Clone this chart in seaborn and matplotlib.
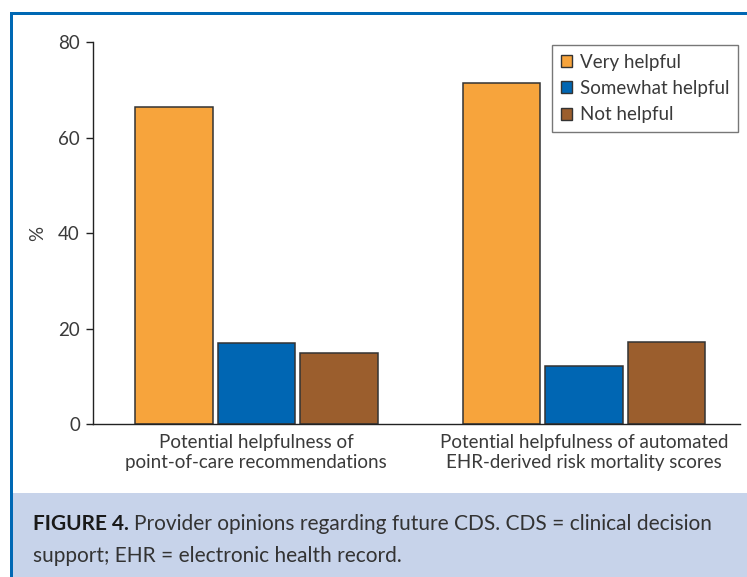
import matplotlib
matplotlib.use("Agg")
import matplotlib.pyplot as plt
from matplotlib.patches import Rectangle
import pandas as pd
import seaborn as sns

# Survey results (% of providers)
categories = [
    "Potential helpfulness of\npoint-of-care recommendations",
    "Potential helpfulness of automated\nEHR-derived risk mortality scores",
]
responses = ["Very helpful", "Somewhat helpful", "Not helpful"]
very_helpful = [66.4, 71.5]
somewhat_helpful = [16.9, 12.1]
not_helpful = [14.9, 17.1]
y_ticks = [0, 20, 40, 60, 80]

colors = ["#f7a43c", "#0066b3", "#9b5e2d"]
text_color = "#3a3a3a"

rows = []
for name, vals in zip(responses, [very_helpful, somewhat_helpful, not_helpful]):
    for cat, v in zip(categories, vals):
        rows.append({"category": cat, "response": name, "pct": v})
df = pd.DataFrame(rows)

sns.set_theme(style="white")
plt.rcParams["font.family"] = ["Lato", "DejaVu Sans"]

W, H = 747, 577
fig = plt.figure(figsize=(W / 100, H / 100), dpi=100)
fig.patch.set_facecolor("white")

# Frame: blue rules at top and left, light blue caption band
band_top = 493
fig.patches.append(Rectangle((13 / W, 0), 1 - 13 / W, (H - band_top) / H,
                             transform=fig.transFigure, facecolor="#c7d3ea",
                             edgecolor="none", zorder=0))
fig.patches.append(Rectangle((10 / W, 0), 3 / W, (H - 12) / H,
                             transform=fig.transFigure, facecolor="#0068b4",
                             edgecolor="none", zorder=1))
fig.patches.append(Rectangle((10 / W, (H - 15) / H), 1 - 10 / W, 3 / H,
                             transform=fig.transFigure, facecolor="#0068b4",
                             edgecolor="none", zorder=1))

left_px, right_px, top_px, bottom_px = 92.5, 740, 42.3, 423.9
ax = fig.add_axes([left_px / W, 1 - bottom_px / H,
                   (right_px - left_px) / W, (bottom_px - top_px) / H])

sns.barplot(data=df, x="category", y="pct", hue="response",
            palette=colors, hue_order=responses, width=0.756, gap=0.06,
            saturation=1, edgecolor="#333333", linewidth=1.1, ax=ax,
            legend=True)

label_size = 13.5
ax.set_ylim(0, 80)
ax.set_xlim(-0.5, 1.476)
ax.set_yticks(y_ticks)
ax.set_yticklabels([str(t) for t in y_ticks])
ax.set_xlabel("")
ax.set_ylabel("%", fontsize=label_size, color=text_color, labelpad=9)

for s in ["top", "right"]:
    ax.spines[s].set_visible(False)
for s in ["left", "bottom"]:
    ax.spines[s].set_color("#222222")
    ax.spines[s].set_linewidth(1.0)

ax.tick_params(axis="y", which="major", direction="out", length=5, width=1.0,
               color="#222222", labelsize=label_size, labelcolor=text_color,
               pad=4, left=True)
ax.tick_params(axis="x", length=0, labelsize=label_size,
               labelcolor=text_color, pad=7)
for lbl in ax.get_xticklabels():
    lbl.set_linespacing(1.25)

leg = ax.legend(loc="upper right", bbox_to_anchor=(1.0, 1.0 - 1 / 381.6),
                frameon=True, fancybox=False, fontsize=label_size,
                handlelength=0.6, handleheight=0.6, handletextpad=0.45,
                borderpad=0.45, labelspacing=0.5, borderaxespad=0.1)
leg.get_frame().set_edgecolor("#555555")
leg.get_frame().set_linewidth(1.0)
for t in leg.get_texts():
    t.set_color(text_color)
for h in leg.legend_handles:
    h.set_edgecolor("#333333")
    h.set_linewidth(1.0)

# Caption
cap_size = 15
bold = fig.text(33 / W, 1 - 530 / H, "FIGURE 4.", fontsize=cap_size,
                fontweight="bold", color="#1a1a1a", va="baseline", ha="left")
fig.canvas.draw()
bbox = bold.get_window_extent(renderer=fig.canvas.get_renderer())
fig.text(bbox.x1 / W + 5 / W, 1 - 530 / H,
         "Provider opinions regarding future CDS. CDS = clinical decision",
         fontsize=cap_size, color="#333333", va="baseline", ha="left")
fig.text(33 / W, 1 - 562 / H, "support; EHR = electronic health record.",
         fontsize=cap_size, color="#333333", va="baseline", ha="left")

fig.savefig("out.png", dpi=100)
